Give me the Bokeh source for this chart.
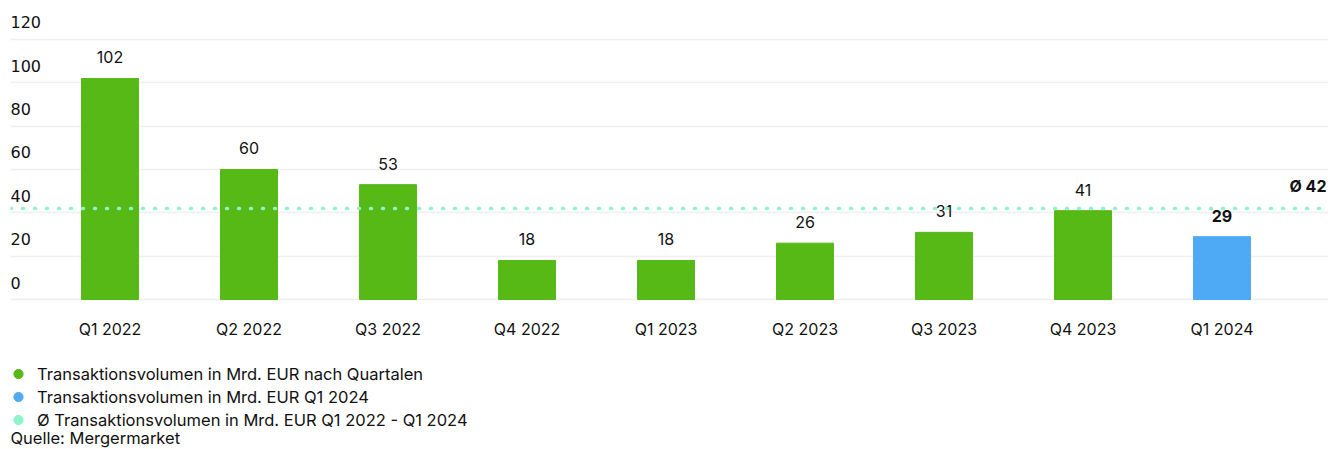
from bokeh.plotting import figure
from bokeh.models import (Range1d, FixedTicker, Legend, LegendItem, Label,
                          ColumnDataSource, Grid, Span)
from bokeh.core.properties import value
from bokeh.embed import file_html
from bokeh.resources import INLINE

quarters = ["Q1 2022", "Q2 2022", "Q3 2022", "Q4 2022", "Q1 2023",
            "Q2 2023", "Q3 2023", "Q4 2023", "Q1 2024"]
volumes = [102, 60, 53, 18, 18, 26, 31, 41, 29]
highlight = [False, False, False, False, False, False, False, False, True]
average = 42
y_ticks = [0, 20, 40, 60, 80, 100, 120]
legend_labels = ["Transaktionsvolumen in Mrd. EUR nach Quartalen",
                 "Transaktionsvolumen in Mrd. EUR Q1 2024",
                 "Ø Transaktionsvolumen in Mrd. EUR Q1 2022 - Q1 2024"]
source_note = "Quelle: Mergermarket"

GREEN = "#56b916"
BLUE = "#4eaaf4"
MINT = "#8ef3cb"
TEXT = "#111111"
FONT = "Inter"
FS = "16px"

xs = list(range(len(quarters)))
src = ColumnDataSource(dict(
    x=xs, top=volumes, base=[0] * len(xs), name=quarters,
    color=[BLUE if h else GREEN for h in highlight],
    label=[str(v) for v in volumes],
    style=["bold" if h else "normal" for h in highlight],
))

PX = 2.1667  # pixels per unit
x_range = Range1d(-0.716, 8.766)
# frame fills the page; value 0 sits 150px above the bottom edge
y_range = Range1d(-150 / PX, 299 / PX)
p = figure(frame_width=1318, frame_height=449, x_range=x_range,
           y_range=y_range, y_axis_location=None, x_axis_location=None,
           output_backend="svg", toolbar_location=None,
           min_border_top=0, min_border_left=10, min_border_right=0,
           min_border_bottom=0)
p.outline_line_color = None
p.xgrid.visible = False
p.ygrid.visible = False
p.add_layout(Grid(dimension=1, ticker=FixedTicker(ticks=y_ticks),
                  grid_line_color="#efefef", grid_line_width=1.5))

p.vbar(x="x", top="top", width=0.41, color="color", source=src)

# value labels on bars
p.text(x="x", y="top", text="label", text_font_style="style", source=src,
       text_align="center", text_baseline="bottom", y_offset=-15,
       text_font=value(FONT), text_font_size=FS, text_color=TEXT)

# category labels under the baseline
p.text(x="x", y="base", text="name", source=src, text_align="center",
       text_baseline="middle", y_offset=29, text_font=value(FONT),
       text_font_size=FS, text_color=TEXT)

# y tick labels sitting above their grid lines
p.text(x=[x_range.start] * len(y_ticks), y=y_ticks,
       text=[str(t) for t in y_ticks], text_align="left",
       text_baseline="bottom", y_offset=-11, text_font=value("DejaVu Sans"),
       text_font_size=FS, text_color=TEXT)

p.add_layout(Span(location=average, dimension="width", line_color=MINT,
                  line_width=3.5, line_dash="1 11", line_cap="round"))
p.text(x=[x_range.end], y=[average], text=["Ø %d" % average],
       text_align="right", text_baseline="bottom", x_offset=-2, y_offset=-12,
       text_font=value(FONT), text_font_size=FS, text_font_style="bold",
       text_color=TEXT)

# legend markers (no data points; only shown in the legend)
nan = float("nan")
r_green = p.scatter(x=[nan], y=[nan], size=15, color=GREEN)
r_blue = p.scatter(x=[nan], y=[nan], size=15, color=BLUE)
r_mint = p.scatter(x=[nan], y=[nan], size=15, color=MINT)

legend = Legend(items=[LegendItem(label=legend_labels[0], renderers=[r_green]),
                       LegendItem(label=legend_labels[1], renderers=[r_blue]),
                       LegendItem(label=legend_labels[2], renderers=[r_mint])],
                location=(-11, 18), margin=0, padding=0, spacing=0,
                glyph_width=38, glyph_height=23, label_height=16,
                label_standoff=0, label_text_font=FONT,
                label_text_font_size="16.5px", label_text_color=TEXT,
                border_line_color=None, background_fill_alpha=0)
p.add_layout(legend)

p.add_layout(Label(x=0, y=2, x_units="screen", y_units="screen",
                   text=source_note, text_font=FONT, text_font_size="16.5px",
                   text_color=TEXT, text_baseline="bottom"))

open("out.html", "w").write(file_html(p, INLINE))
